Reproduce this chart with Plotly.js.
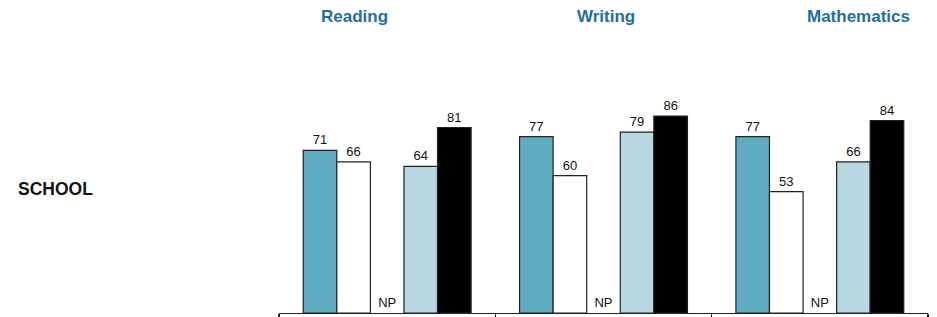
<!DOCTYPE html>
<html>
<head>
<meta charset="utf-8">
<script src="https://cdn.plot.ly/plotly-3.0.1.min.js"></script>
<style>html,body{margin:0;padding:0;background:#fff;}#chart{width:937px;height:317px;}</style>
</head>
<body>
<div id="chart"></div>
<script>
const subjects = ["Reading", "Writing", "Mathematics"];
const series1 = [71, 77, 77];
const series2 = [66, 60, 53];
const series3Labels = ["NP", "NP", "NP"];
const series4 = [64, 79, 66];
const series5 = [81, 86, 84];
const rowLabel = "SCHOOL";

const lineStyle = {color: "#222", width: 1.2};
function barTrace(vals, color) {
  return {
    type: "bar", x: subjects, y: vals,
    text: vals.map(String), textposition: "outside", cliponaxis: false,
    textfont: {family: "Liberation Sans, Arial, sans-serif", size: 13, color: "#111"},
    marker: {color: color, line: lineStyle},
    hoverinfo: "skip", showlegend: false
  };
}
const traces = [
  barTrace(series1, "#5eaac1"),
  barTrace(series2, "#ffffff"),
  {type: "bar", x: subjects, y: [0, 0, 0], text: series3Labels, textposition: "outside", cliponaxis: false,
   textfont: {family: "Liberation Sans, Arial, sans-serif", size: 13, color: "#111"},
   marker: {color: "rgba(0,0,0,0)", line: {width: 0}}, hoverinfo: "skip", showlegend: false},
  barTrace(series4, "#b8d8e1"),
  barTrace(series5, "#000000")
];

const titleX = [354, 606, 858];
const annotations = subjects.map((s, i) => ({
  text: "<b>" + s + "</b>", xref: "paper", yref: "paper",
  x: (titleX[i] - 279) / 649, y: (313 - 16) / 229, xanchor: "center", yanchor: "middle",
  showarrow: false, font: {family: "Liberation Sans, Arial, sans-serif", size: 17, color: "#1f6f9f"}
}));
annotations.push({
  text: "<b>" + rowLabel + "</b>", xref: "paper", yref: "paper",
  x: (16 - 279) / 649, y: (313 - 189) / 229, xanchor: "left", yanchor: "middle",
  showarrow: false, font: {family: "Liberation Sans, Arial, sans-serif", size: 17.5, color: "#111"}
});

const layout = {
  width: 937, height: 317,
  margin: {l: 279, r: 9, t: 84, b: 4},
  paper_bgcolor: "#fff", plot_bgcolor: "#fff",
  barmode: "group", bargap: 0.224, bargroupgap: 0,
  xaxis: {type: "category", showline: true, linecolor: "#222", linewidth: 1.2,
          ticks: "outside", tickson: "boundaries", ticklen: 8, tickcolor: "#222", tickwidth: 1.2,
          showticklabels: false, showgrid: false, zeroline: false, fixedrange: true},
  yaxis: {range: [0, 100], visible: false, showgrid: false, zeroline: false, fixedrange: true},
  annotations: annotations,
  showlegend: false
};
Plotly.newPlot("chart", traces, layout, {staticPlot: true, displayModeBar: false});
</script>
</body>
</html>
